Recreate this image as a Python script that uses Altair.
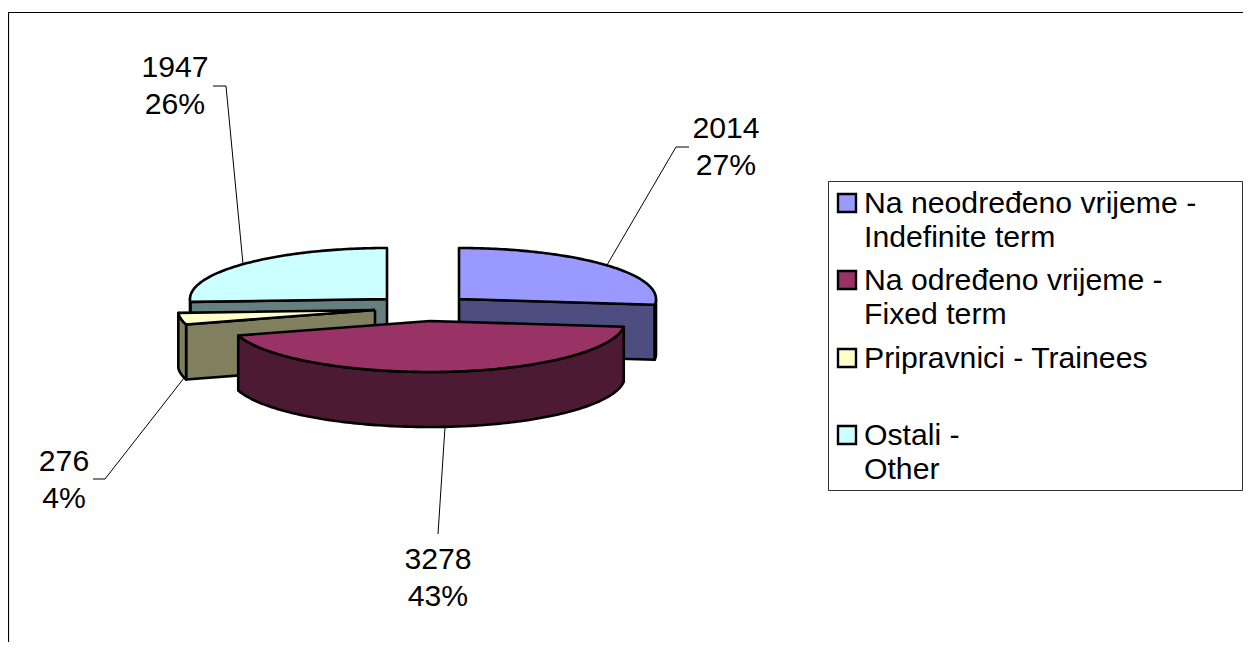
import numpy as np
import pandas as pd
import altair as alt

categories = ["Indefinite", "Fixed", "Trainees", "Other"]
values = [2014, 3278, 276, 1947]
percent_labels = ["27%", "43%", "4%", "26%"]
legend_lines = [
    ["Na neodređeno vrijeme -", "Indefinite term"],
    ["Na određeno vrijeme -", "Fixed term"],
    ["Pripravnici - Trainees"],
    ["Ostali -", "Other"],
]
top_colors = ["#9999FF", "#993366", "#FFFFCC", "#CCFFFF"]
wall_colors = ["#4D4D80", "#4D1A33", "#80805F", "#667F7F"]

apex_x = [459, 430, 375, 387]
apex_y = [299, 321, 310, 299]
rx_right = [197, 195, 197, 197]
rx_left = [197, 200, 197, 197]
RY = 51
DEPTH = 55

label_x = [726, 438, 64, 175]
label_y = [[138, 175], [569, 606], [471, 508], [77, 114]]
leaders = [
    [(689, 147), (676, 147), (607, 265)],
    [(445, 427), (438, 534)],
    [(93, 479), (105, 479), (184, 378)],
    [(213, 86), (226, 86), (243, 264)],
]
swatch_y = [194, 271, 349, 426]
legend_y = [[213, 247], [290, 324], [368], [445, 479]]

W, H = 1235, 634
X = alt.X("x:Q", axis=None, scale=alt.Scale(domain=[8, 8 + W], nice=False, zero=False))
Y = alt.Y("y:Q", axis=None, scale=alt.Scale(domain=[8 + H, 8], nice=False, zero=False))

ang = np.cumsum([0] + values) / sum(values) * 2 * np.pi
layers = []


def arc(i, a0, a1, dy=0):
    t = np.linspace(a0, a1, max(2, int(abs(a1 - a0) * 60)))
    s = np.sin(t)
    x = apex_x[i] + np.where(s >= 0, rx_right[i], rx_left[i]) * s
    y = apex_y[i] - RY * np.cos(t) + dy
    return list(zip(x.tolist(), y.tolist()))


def poly(points, fill, sw=2.6):
    pts = list(points) + [points[0]]
    df = pd.DataFrame({"x": [p[0] for p in pts], "y": [p[1] for p in pts], "o": range(len(pts))})
    return alt.Chart(df).mark_line(fill=fill, stroke="black", strokeWidth=sw, strokeJoin="round").encode(
        x=X, y=Y, order="o:Q"
    )


def line(points, sw=1, color="black"):
    df = pd.DataFrame({"x": [p[0] for p in points], "y": [p[1] for p in points], "o": range(len(points))})
    return alt.Chart(df).mark_line(stroke=color, strokeWidth=sw).encode(x=X, y=Y, order="o:Q")


def text(s, x, y, align="center"):
    df = pd.DataFrame({"x": [x], "y": [y], "t": [s]})
    return alt.Chart(df).mark_text(
        font="Liberation Sans", fontSize=30.2, color="black", align=align, baseline="alphabetic"
    ).encode(x=X, y=Y, text="t:N")


def outer_wall(i, a0, a1):
    a0 = max(a0, np.pi / 2)
    a1 = min(a1, 3 * np.pi / 2)
    if a1 <= a0:
        return None
    up = arc(i, a0, a1)
    down = arc(i, a1, a0, DEPTH)
    return poly(up + down, wall_colors[i])


def radial_wall(i, a):
    e = arc(i, a, a)[0]
    c = (apex_x[i], apex_y[i])
    return poly([c, e, (e[0], e[1] + DEPTH), (c[0], c[1] + DEPTH)], wall_colors[i])


def top(i):
    return poly([(apex_x[i], apex_y[i])] + arc(i, ang[i], ang[i + 1]), top_colors[i])


# frame
layers.append(line([(8 + W, 12.5), (8.5, 12.5), (8.5, 8 + H)], 1.2))
# leaders first, slices drawn over their ends
for pts in leaders:
    layers.append(line(pts, 1))

for i, radial in [(3, ang[3]), (0, ang[1]), (2, ang[2])]:
    layers.append(radial_wall(i, radial))
    w = outer_wall(i, ang[i], ang[i + 1])
    if w is not None:
        layers.append(w)
    layers.append(top(i))
layers.append(outer_wall(1, ang[1], ang[2]))
layers.append(top(1))

# data labels
for i, v in enumerate(values):
    layers.append(text(str(v), label_x[i], label_y[i][0]))
    layers.append(text(percent_labels[i], label_x[i], label_y[i][1]))

# legend
box = pd.DataFrame({"x": [828.5], "x2": [1242.5], "y": [181.5], "y2": [490.5]})
layers.append(alt.Chart(box).mark_rect(fill="white", stroke="#333333", strokeWidth=1).encode(
    x=X, x2="x2:Q", y=Y, y2="y2:Q"))
for i, lines in enumerate(legend_lines):
    sw = pd.DataFrame({"x": [838], "x2": [856], "y": [swatch_y[i]], "y2": [swatch_y[i] + 18]})
    layers.append(alt.Chart(sw).mark_rect(fill=top_colors[i], stroke="black", strokeWidth=2.4).encode(
        x=X, x2="x2:Q", y=Y, y2="y2:Q"))
    for s, yy in zip(lines, legend_y[i]):
        layers.append(text(s, 864, yy, "left"))

chart = alt.layer(*layers).properties(
    width=W, height=H, padding=0, autosize=alt.AutoSizeParams(type="none"),
    background="white",
).configure_view(stroke=None)
chart.save("out.html", embed_options={"renderer": "svg", "actions": False})
